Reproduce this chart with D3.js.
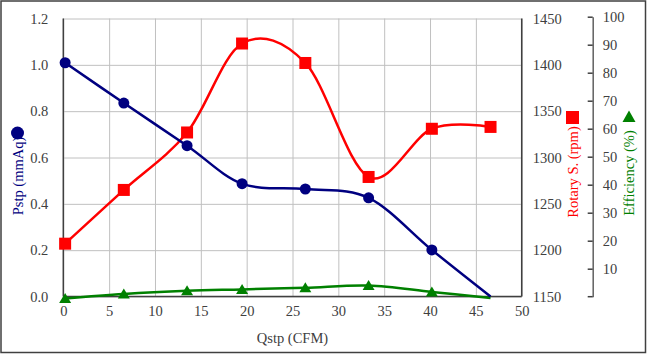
<!DOCTYPE html>
<html><head><meta charset="utf-8">
<script src="https://cdn.jsdelivr.net/npm/d3@7"></script>
<style>
body{margin:0;background:#fff}
svg{display:block}
text{font-family:"Liberation Serif","Times New Roman",serif}
</style>
</head><body>
<svg id="c" width="647" height="356"></svg>
<script>
// ---- data ----
const qstp = [0.2, 6.6, 13.5, 19.5, 26.4, 33.3, 40.2, 46.6];
const pstp = [1.009, 0.835, 0.651, 0.487, 0.464, 0.426, 0.201, 0.0];
const rpm  = [1207, 1265, 1327, 1423, 1402, 1279, 1331, 1333];
const eff  = [-0.6, 1.0, 2.1, 2.6, 3.2, 4.0, 1.7, -0.5];
const pstpMarkers = 7;   // number of points carrying a marker
const effMarkers = 7;
const xTicks = [0, 5, 10, 15, 20, 25, 30, 35, 40, 45, 50];
const pTicks = [0.0, 0.2, 0.4, 0.6, 0.8, 1.0, 1.2];
const rTicks = [1150, 1200, 1250, 1300, 1350, 1400, 1450];
const eTicks = [10, 20, 30, 40, 50, 60, 70, 80, 90, 100];

const FONT = '"Liberation Serif","Times New Roman",serif';
const svg = d3.select("#c");
const L = 63.3, R = 521.7, T = 18.5, B = 296.5;
const x = d3.scaleLinear().domain([0, 50]).range([L, R]);
const yP = d3.scaleLinear().domain([0, 1.2]).range([B, T]);
const yR = d3.scaleLinear().domain([1150, 1450]).range([B, T]);
const yE = d3.scaleLinear().domain([0, 100]).range([296.7, 16.7]);

const NAVY = "#000080", RED = "#ff0000", GREEN = "#008000", TXT = "#404040";

// outer frame
svg.append("rect").attr("x", 1).attr("y", 1).attr("width", 644.5).attr("height", 351.5)
  .attr("fill", "none").attr("stroke", "#404040").attr("stroke-width", 1.5);

// gridlines
const gx = svg.append("g").attr("transform", `translate(0,${B})`)
  .call(d3.axisBottom(x).tickValues(xTicks).tickSize(-(B - T)).tickFormat(""));
gx.select(".domain").remove();
gx.selectAll("line").attr("stroke", "#c0c0c0").attr("stroke-width", 1);
const gy = svg.append("g").attr("transform", `translate(${L},0)`)
  .call(d3.axisLeft(yP).tickValues(pTicks).tickSize(-(R - L)).tickFormat(""));
gy.select(".domain").remove();
gy.selectAll("line").attr("stroke", "#c0c0c0").attr("stroke-width", 1);

// axes lines
svg.append("line").attr("x1", L).attr("x2", L).attr("y1", T).attr("y2", B).attr("stroke", "#404040").attr("stroke-width", 1.5);
svg.append("line").attr("x1", L).attr("x2", R).attr("y1", B).attr("y2", B).attr("stroke", "#404040").attr("stroke-width", 1.5);
svg.append("line").attr("x1", R).attr("x2", R).attr("y1", T).attr("y2", B).attr("stroke", "#404040").attr("stroke-width", 1.5);

// tick labels
function styleAxis(g) {
  g.attr("font-family", FONT).attr("font-size", 14.5);
  g.select(".domain").remove();
  g.selectAll("line").remove();
  g.selectAll("text").attr("fill", TXT).style("font-family", FONT).style("font-size", "14.5px");
}
const ax = svg.append("g").attr("transform", `translate(0,${B})`)
  .call(d3.axisBottom(x).tickValues(xTicks).tickSize(0).tickPadding(9).tickFormat(d3.format("d")));
styleAxis(ax);
const ay = svg.append("g").attr("transform", `translate(${L},0)`)
  .call(d3.axisLeft(yP).tickValues(pTicks).tickSize(0).tickPadding(15).tickFormat(d3.format(".1f")));
styleAxis(ay);
const ar = svg.append("g").attr("transform", `translate(${R},0)`)
  .call(d3.axisRight(yR).tickValues(rTicks).tickSize(0).tickPadding(11).tickFormat(d3.format("d")));
styleAxis(ar);

// efficiency axis
const ae = svg.append("g").attr("transform", "translate(592.7,0)")
  .call(d3.axisRight(yE).tickValues(eTicks).tickSizeInner(-5).tickSizeOuter(0).tickPadding(10));
ae.attr("font-family", FONT).attr("font-size", 14.5);
ae.select(".domain").attr("stroke", "#606060").attr("stroke-width", 1.5);
ae.selectAll(".tick line").attr("stroke", "#404040").attr("stroke-width", 1.5);
ae.selectAll("text").attr("fill", TXT).style("font-family", FONT).style("font-size", "14.5px");
ae.append("line").attr("x1", 0).attr("x2", -5).attr("y1", yE(0)).attr("y2", yE(0)).attr("stroke", "#404040").attr("stroke-width", 1.5);

// series lines
const curve = d3.curveCatmullRom.alpha(0);
function drawLine(vals, ys, color) {
  const line = d3.line().x((d, i) => x(qstp[i])).y(d => ys(d)).curve(curve);
  svg.append("path").datum(vals).attr("d", line).attr("fill", "none")
    .attr("stroke", color).attr("stroke-width", 2.5);
}
drawLine(eff, yE, GREEN);
drawLine(rpm, yR, RED);
drawLine(pstp, yP, NAVY);

const tri = "M0,-5.5L6,4.5L-6,4.5Z";
svg.append("g").selectAll("path").data(eff.slice(0, effMarkers)).join("path")
  .attr("d", tri).attr("fill", GREEN)
  .attr("transform", (d, i) => `translate(${x(qstp[i])},${yE(d)})`);
svg.append("g").selectAll("rect").data(rpm).join("rect")
  .attr("x", (d, i) => x(qstp[i]) - 6).attr("y", d => yR(d) - 6)
  .attr("width", 12).attr("height", 12).attr("fill", RED);
svg.append("g").selectAll("circle").data(pstp.slice(0, pstpMarkers)).join("circle")
  .attr("cx", (d, i) => x(qstp[i])).attr("cy", d => yP(d)).attr("r", 5.5).attr("fill", NAVY);

// axis titles
svg.append("text").attr("x", (L + R) / 2).attr("y", 343).attr("text-anchor", "middle")
  .attr("fill", TXT).style("font-size", "14.5px").text("Qstp (CFM)");
svg.append("text").attr("transform", "translate(23,176) rotate(-90)").attr("text-anchor", "middle")
  .attr("fill", NAVY).style("font-size", "14.5px").text("Pstp (mmAq)");
svg.append("circle").attr("cx", 17.5).attr("cy", 133).attr("r", 6.5).attr("fill", NAVY);
svg.append("text").attr("transform", "translate(577.5,172) rotate(-90)").attr("text-anchor", "middle")
  .attr("fill", RED).style("font-size", "14.5px").text("Rotary S. (rpm)");
svg.append("rect").attr("x", 566).attr("y", 111).attr("width", 13).attr("height", 13).attr("fill", RED);
svg.append("text").attr("transform", "translate(634,173) rotate(-90)").attr("text-anchor", "middle")
  .attr("fill", GREEN).style("font-size", "14.5px").text("Efficiency (%)");
svg.append("path").attr("d", "M0,-6.5L6.5,5L-6.5,5Z").attr("fill", GREEN)
  .attr("transform", "translate(629,117)");
</script>
</body></html>
